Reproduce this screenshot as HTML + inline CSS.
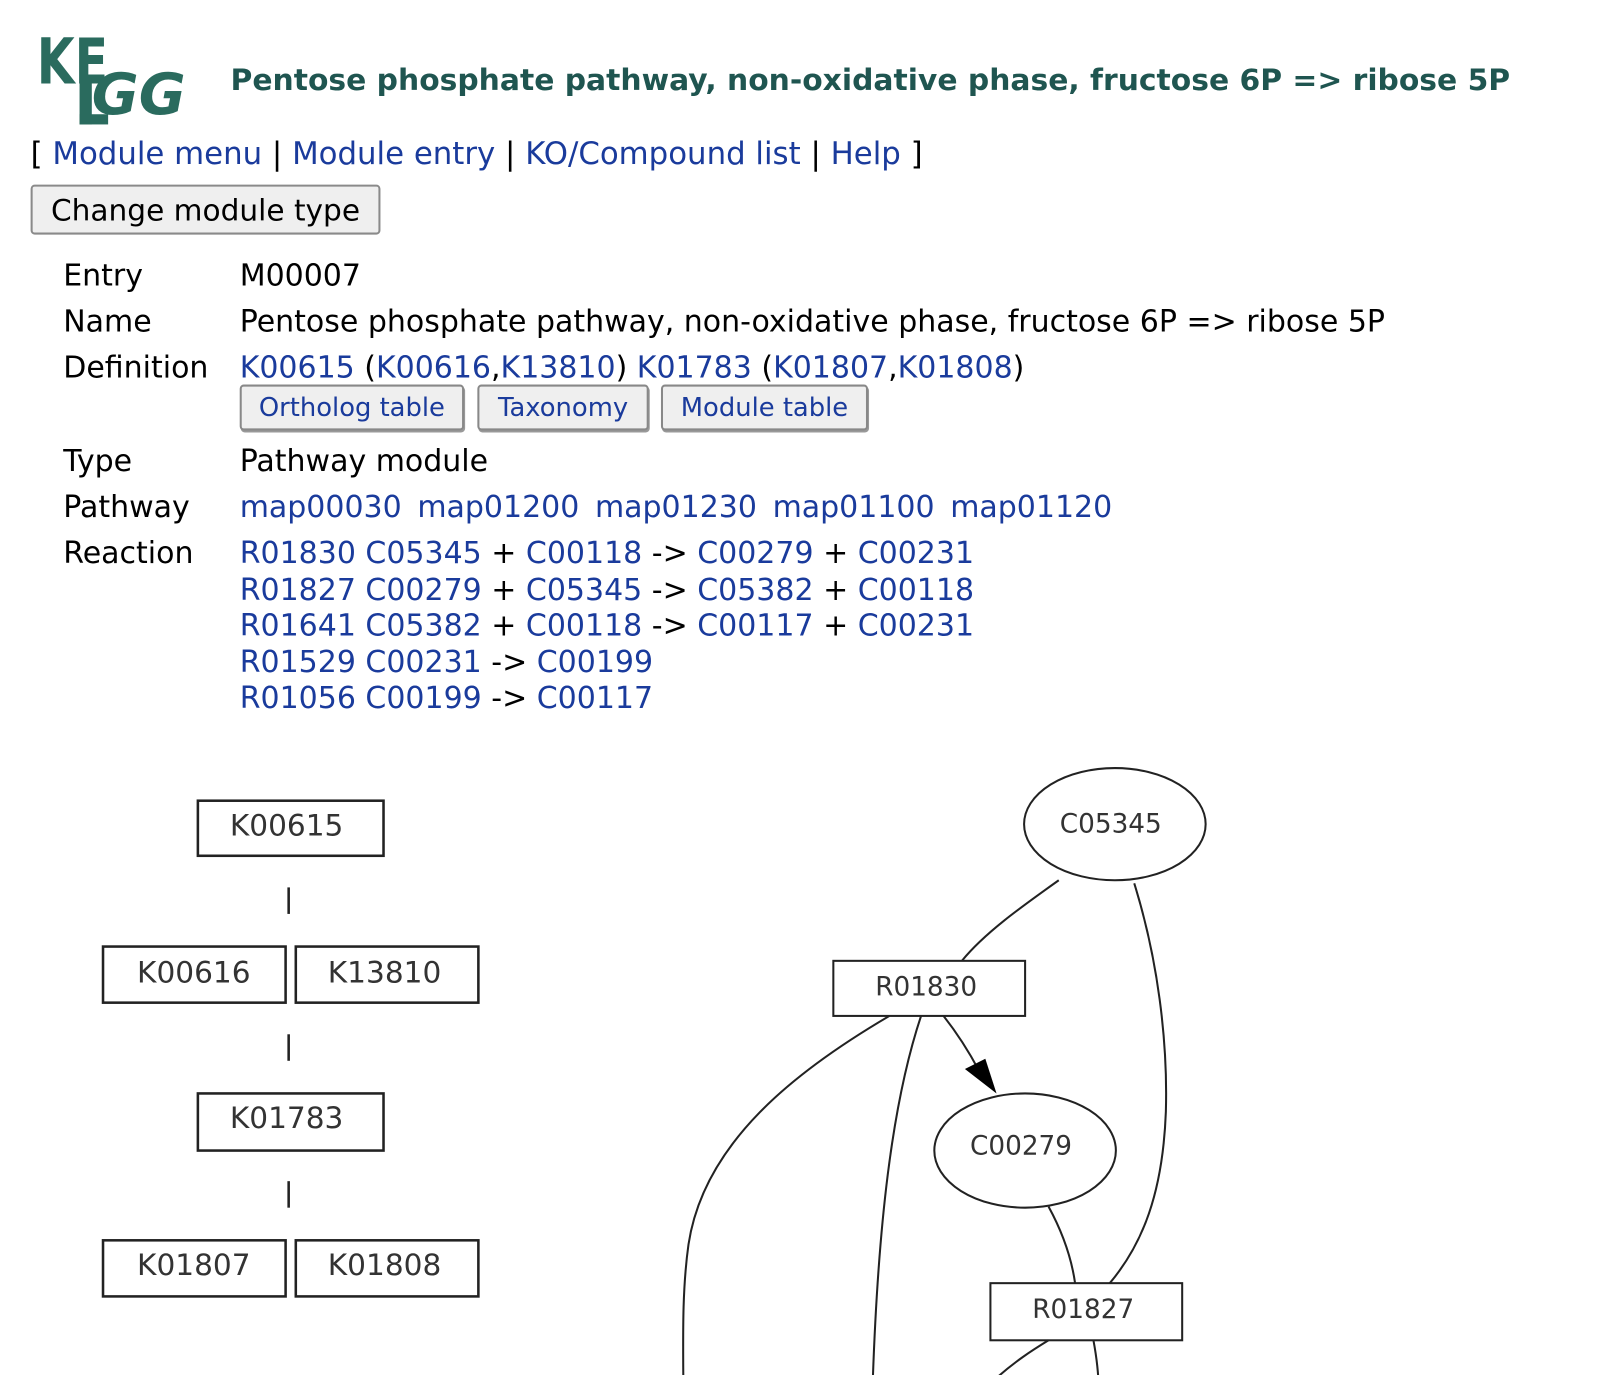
<!DOCTYPE html>
<html><head><meta charset="utf-8">
<style>
html,body{margin:0;padding:0;background:#fff;width:1600px;height:1375px;overflow:hidden}
body{position:relative;font-family:"DejaVu Sans","Liberation Sans",sans-serif;color:#000}
#wrap{position:absolute;left:0;top:0;width:1570px;height:1350px;transform:scale(1.02);transform-origin:0 0}
.a{position:absolute;white-space:nowrap;line-height:1}
.t{font-size:29.4px}
a{color:#1a3b9c;text-decoration:none}
.btn{position:absolute;background:#efefef;border:2px solid #8a8a8a;border-radius:4px;box-sizing:border-box;font-size:29px;display:flex;align-items:center;justify-content:center}
.bb{color:#1a3b9c;border-color:#888;box-shadow:1px 2px 0 #999;font-size:25.3px}
</style></head><body>
<div id="wrap">
<svg class="a" style="left:36px;top:26px" width="150" height="100" viewBox="0 0 150 100">
<text x="0" y="56" font-family="DejaVu Sans" font-weight="bold" font-size="62" fill="#2a6b5e" textLength="70" lengthAdjust="spacingAndGlyphs">KE</text>
<rect x="42" y="50" width="12" height="46" fill="#2a6b5e"/>
<rect x="42" y="86" width="28" height="10" fill="#2a6b5e"/>
<text x="54" y="86" font-family="DejaVu Sans" font-weight="bold" font-style="italic" font-size="56" fill="#2a6b5e" textLength="92" lengthAdjust="spacingAndGlyphs">GG</text>
</svg>
<div class="a" style="left:226px;top:64px;font-size:29.2px;font-weight:bold;color:#1f5550">Pentose phosphate pathway, non-oxidative phase, fructose 6P =&gt; ribose 5P</div>
<div class="a" style="left:30px;top:137px;font-size:30.2px">[ <a>Module menu</a> | <a>Module entry</a> | <a>KO/Compound list</a> | <a>Help</a> ]</div>
<div class="btn" style="left:30px;top:181px;width:343px;height:49px">Change module type</div>

<div class="a t" style="left:62px;top:256px">Entry</div>
<div class="a t" style="left:235px;top:256px">M00007</div>
<div class="a t" style="left:62px;top:301px">Name</div>
<div class="a t" style="left:235px;top:301px">Pentose phosphate pathway, non-oxidative phase, fructose 6P =&gt; ribose 5P</div>
<div class="a t" style="left:62px;top:346px">Definition</div>
<div class="a t" style="left:235px;top:346px"><a>K00615</a> (<a>K00616</a>,<a>K13810</a>) <a>K01783</a> (<a>K01807</a>,<a>K01808</a>)</div>
<div class="btn bb" style="left:235px;top:377px;width:220px;height:45px">Ortholog table</div>
<div class="btn bb" style="left:468px;top:377px;width:168px;height:45px">Taxonomy</div>
<div class="btn bb" style="left:648px;top:377px;width:203px;height:45px">Module table</div>
<div class="a t" style="left:62px;top:438px">Type</div>
<div class="a t" style="left:235px;top:438px">Pathway module</div>
<div class="a t" style="left:62px;top:483px">Pathway</div>
<div class="a t" style="left:235px;top:483px;word-spacing:6px"><a>map00030</a> <a>map01200</a> <a>map01230</a> <a>map01100</a> <a>map01120</a></div>
<div class="a t" style="left:62px;top:528px">Reaction</div>
<div class="a t" style="left:235px;top:528px"><a>R01830</a> <a>C05345</a> + <a>C00118</a> -&gt; <a>C00279</a> + <a>C00231</a></div>
<div class="a t" style="left:235px;top:564px"><a>R01827</a> <a>C00279</a> + <a>C05345</a> -&gt; <a>C05382</a> + <a>C00118</a></div>
<div class="a t" style="left:235px;top:599px"><a>R01641</a> <a>C05382</a> + <a>C00118</a> -&gt; <a>C00117</a> + <a>C00231</a></div>
<div class="a t" style="left:235px;top:635px"><a>R01529</a> <a>C00231</a> -&gt; <a>C00199</a></div>
<div class="a t" style="left:235px;top:670px"><a>R01056</a> <a>C00199</a> -&gt; <a>C00117</a></div>

<svg class="a" style="left:0;top:0" width="1570" height="1350" font-family="DejaVu Sans" fill="none">
<g stroke="#222" stroke-width="2.5">
<rect x="194" y="785" width="182" height="54"/>
<rect x="101" y="928" width="179" height="55"/><rect x="290" y="928" width="179" height="55"/>
<rect x="194" y="1072" width="182" height="56"/>
<rect x="101" y="1216" width="179" height="55"/><rect x="290" y="1216" width="179" height="55"/>
<line x1="283" y1="870" x2="283" y2="896"/><line x1="283" y1="1014" x2="283" y2="1040"/><line x1="283" y1="1158" x2="283" y2="1184"/>
</g>
<g fill="#333" text-anchor="middle" font-size="29">
<text x="281" y="819">K00615</text>
<text x="190" y="963">K00616</text><text x="377" y="963">K13810</text>
<text x="281" y="1106">K01783</text>
<text x="190" y="1250">K01807</text><text x="377" y="1250">K01808</text>
</g>
<g stroke="#222" stroke-width="2">
<ellipse cx="1093" cy="808" rx="89" ry="55"/>
<rect x="817" y="942" width="188" height="54"/>
<ellipse cx="1005" cy="1128" rx="89" ry="56"/>
<rect x="971" y="1258" width="188" height="56"/>
<path d="M1038,863 C1000,890 965,915 943,942"/>
<path d="M1112,866 C1135,940 1145,1020 1143,1090 C1140,1170 1120,1220 1088,1258"/>
<path d="M925,996 C940,1015 952,1035 960,1050"/>
<path d="M872,996 C780,1050 690,1120 675,1220 C668,1270 670,1320 670,1375"/>
<path d="M903,996 C875,1080 860,1200 855,1375"/>
<path d="M1028,1183 C1040,1205 1050,1230 1054,1258"/>
<path d="M1028,1314 C1010,1325 995,1335 978,1350"/>
<path d="M1072,1314 C1075,1330 1077,1345 1078,1375"/>
</g>
<polygon points="946,1048 966,1038 977,1072" fill="#000"/>
<g fill="#333" text-anchor="middle" font-size="25.8">
<text x="1089" y="816">C05345</text>
<text x="908" y="976">R01830</text>
<text x="1001" y="1132">C00279</text>
<text x="1062" y="1292">R01827</text>
</g>
</svg>
</div>
</body></html>
